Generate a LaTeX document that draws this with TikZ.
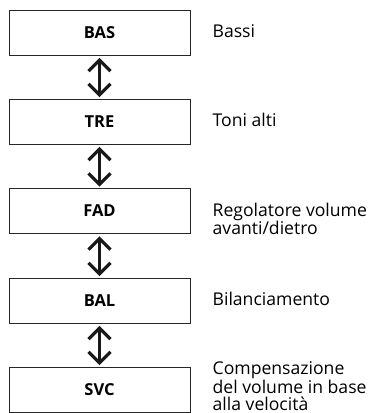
\documentclass[tikz,border=0pt]{standalone}
\usepackage{fontspec}
\setmainfont{Open Sans}
\usetikzlibrary{arrows.meta, positioning}

\begin{document}
\begin{tikzpicture}[x=1pt, y=1pt,
    font=\fontsize{17.6}{17.5}\selectfont,
    modebox/.style={draw=black!85, line width=0.9pt, minimum width=181pt, minimum height=45pt, inner sep=0pt, font=\fontsize{16.5}{16.5}\selectfont\bfseries},
    desc/.style={anchor=west, align=left, inner sep=0pt, text=black},
    updown/.style={{Straight Barb[length=11pt, width=22pt]}-{Straight Barb[length=11pt, width=22pt]}, line width=3.2pt, draw=black!90, shorten <=2.5pt, shorten >=1.5pt}]
    \useasboundingbox (0,0) rectangle (381,-413);

    \node[modebox] (bas) at (99.5,-32.5) {BAS};
    \node[modebox] (tre) at (99.5,-121.5) {TRE};
    \node[modebox] (fad) at (99.5,-211) {FAD};
    \node[modebox] (bal) at (99.5,-300.5) {BAL};
    \node[modebox] (svc) at (99.5,-389.5) {SVC};

    \node[desc, right=22pt of bas, yshift=1.5pt] (bassi) {Bassi};
    \node[desc, right=22pt of tre, yshift=1.5pt] (toni) {Toni alti};
    \node[desc, right=22pt of fad, yshift=-8pt] (fader) {Regolatore volume\\avanti/dietro};
    \node[desc, right=22pt of bal, yshift=1.5pt] (bilancia) {Bilanciamento};
    \node[desc, right=22pt of svc, yshift=3pt] (compens) {Compensazione\\del volume in base\\alla velocità};

    \draw[updown] (bas) -- (tre);
    \draw[updown] (tre) -- (fad);
    \draw[updown] (fad) -- (bal);
    \draw[updown] (bal) -- (svc);
\end{tikzpicture}
\end{document}
